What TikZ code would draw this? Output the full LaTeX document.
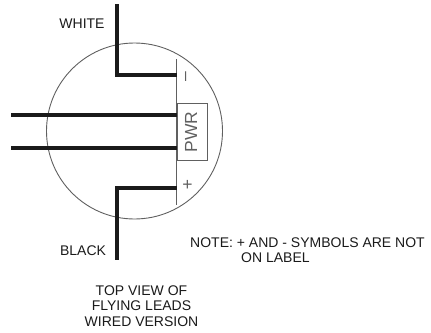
\documentclass[tikz,border=0pt]{standalone}
\usepackage{fontspec}
\setmainfont{Liberation Sans}
\definecolor{ink}{HTML}{1A1A1A}
\definecolor{thin}{HTML}{606060}
\tikzset{
  lbl/.style={inner sep=0pt,text=ink,font=\fontsize{14}{15.5}\selectfont},
  mark text/.style={inner sep=0pt,text=thin,font=\fontsize{17.5}{19}\selectfont},
  wire/.style={draw=ink,line width=3.6pt,line join=miter},
  fine/.style={draw=thin,line width=0.9pt}
}
\begin{document}
\begin{tikzpicture}[x=1pt,y=-1pt]
\useasboundingbox (0,0) rectangle (431,332);
\node[fine,circle,minimum size=176pt,inner sep=0pt] (body) at (134.5,131) {};
\coordinate (top) at (176.5,59);
\coordinate (bot) at (176.5,205);
\draw[fine] (top) -- (bot);
\node[fine,rectangle,minimum width=30pt,minimum height=57pt,inner sep=0pt,anchor=north west] (pwr) at (176.5,103) {};
\node[mark text,rotate=90] (pwrt) at (191,132) {PWR};
\node[mark text] (minus) at (187.5,77) {\rotatebox{90}{\textendash}};
\node[mark text] (plus) at (187.5,185) {+};
\coordinate (w0) at (117,4);
\coordinate (w1) at (117,75);
\coordinate (w2) at (176.5,75);
\coordinate (b0) at (117,259.5);
\coordinate (b1) at (117,188);
\coordinate (b2) at (176.5,188);
\coordinate (l1a) at (11,115);
\coordinate (l1b) at (176.5,115);
\coordinate (l2a) at (11,148);
\coordinate (l2b) at (176.5,148);
\draw[wire] (w0) -- (w1) -- (w2);
\draw[wire] (b0) -- (b1) -- (b2);
\draw[wire] (l1a) -- (l1b);
\draw[wire] (l2a) -- (l2b);
\node[lbl] (white) at (82,24) {WHITE};
\node[lbl] (black) at (83,251) {BLACK};
\node[lbl,anchor=west] (note1) at (190,243) {NOTE: + AND - SYMBOLS ARE NOT};
\node[lbl,anchor=west] (note2) at (241,258) {ON LABEL};
\node[lbl,align=center] (cap) at (141.5,306) {TOP VIEW OF\\FLYING LEADS\\WIRED VERSION};
\end{tikzpicture}
\end{document}
